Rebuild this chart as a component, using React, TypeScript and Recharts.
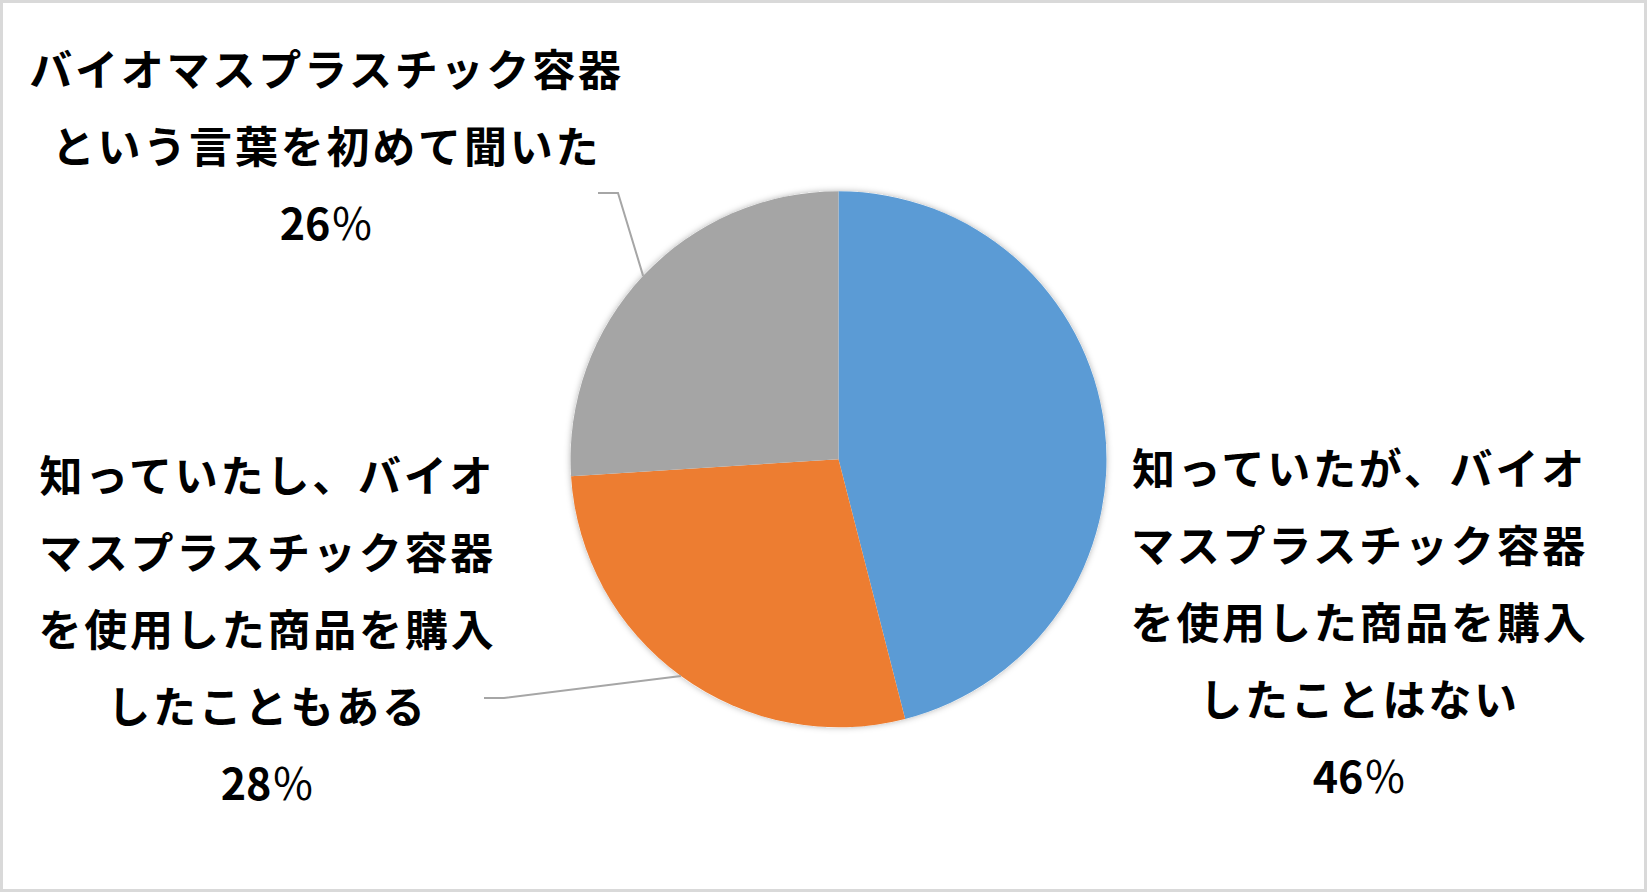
import React from 'react'
import { PieChart, Pie, Cell } from 'recharts'

// chart data
const categories = [
  '知っていたが、バイオマスプラスチック容器を使用した商品を購入したことはない',
  '知っていたし、バイオマスプラスチック容器を使用した商品を購入したこともある',
  'バイオマスプラスチック容器という言葉を初めて聞いた',
]
const categoryLines = [
  ['知っていたが、バイオ', 'マスプラスチック容器', 'を使用した商品を購入', 'したことはない'],
  ['知っていたし、バイオ', 'マスプラスチック容器', 'を使用した商品を購入', 'したこともある'],
  ['バイオマスプラスチック容器', 'という言葉を初めて聞いた'],
]
const values = [46, 28, 26]
const colors = ['#5B9BD5', '#ED7D31', '#A5A5A5']

const chartData = categories.map((name, i) => ({ name, value: values[i] }))

const WIDTH = 1647
const HEIGHT = 892
const CX = 838.5
const CY = 459.3
const RADIUS = 268
const LINE_HEIGHT = 77
const FONT = "'Noto Sans CJK JP', 'Noto Sans', sans-serif"

// label placement relative to the pie centre (text centre x, first baseline y)
const labelLayout = [
  { dx: 521, dy: 26, elbow: null },
  { dx: -571, dy: 33, elbow: { x: -334.5, y: 238.7, endX: -354.5 } },
  { dx: -512, dy: -373.3, elbow: { x: -220.5, y: -266.3, endX: -240.5 } },
]

const RAD = Math.PI / 180

function renderLabel(props: any) {
  const { cx, cy, midAngle, outerRadius, index, value } = props
  const layout = labelLayout[index]
  const lines = categoryLines[index]
  const tx = cx + layout.dx
  const ty = cy + layout.dy
  let leader = null
  if (layout.elbow) {
    const sx = cx + outerRadius * Math.cos(midAngle * RAD)
    const sy = cy - outerRadius * Math.sin(midAngle * RAD)
    const ex = cx + layout.elbow.x
    const ey = cy + layout.elbow.y
    const fx = cx + layout.elbow.endX
    leader = (
      <polyline
        points={`${sx},${sy} ${ex},${ey} ${fx},${ey}`}
        fill="none"
        stroke="#A6A6A6"
        strokeWidth={2}
      />
    )
  }
  return (
    <g key={`label-${index}`}>
      {leader}
      <text
        x={tx}
        y={ty}
        textAnchor="middle"
        fill="#000"
        fontFamily={FONT}
        fontSize={43}
        fontWeight={700}
        letterSpacing={2.8}
      >
        {lines.map((line, i) => (
          <tspan key={i} x={tx} y={ty + i * LINE_HEIGHT}>
            {line}
          </tspan>
        ))}
        <tspan x={tx} y={ty + lines.length * LINE_HEIGHT} letterSpacing={0}>
          {value}
          <tspan fontWeight={400}>％</tspan>
        </tspan>
      </text>
    </g>
  )
}

export default function App() {
  return (
    <div
      style={{
        position: 'absolute',
        left: 0,
        top: 0,
        width: WIDTH,
        height: HEIGHT,
        background: '#fff',
      }}
    >
      <PieChart width={WIDTH} height={HEIGHT} margin={{ top: 0, right: 0, bottom: 0, left: 0 }}>
        <defs>
          <filter id="pieShadow" x="-20%" y="-20%" width="140%" height="140%">
            <feDropShadow dx="0" dy="0" stdDeviation="3" floodColor="#000" floodOpacity="0.3" />
          </filter>
        </defs>
        <Pie
          data={[{ value: 1 }]}
          dataKey="value"
          cx={CX}
          cy={CY}
          outerRadius={RADIUS}
          startAngle={90}
          endAngle={-270}
          fill="#fff"
          stroke="none"
          filter="url(#pieShadow)"
          isAnimationActive={false}
        />
        <Pie
          data={chartData}
          dataKey="value"
          nameKey="name"
          cx={CX}
          cy={CY}
          outerRadius={RADIUS}
          startAngle={90}
          endAngle={-270}
          stroke="none"
          label={renderLabel}
          labelLine={false}
          isAnimationActive={false}
        >
          {chartData.map((d, i) => (
            <Cell key={d.name} fill={colors[i]} />
          ))}
        </Pie>
      </PieChart>
      <div
        style={{
          position: 'absolute',
          inset: 0,
          border: '3px solid #D9D9D9',
          boxSizing: 'border-box',
          pointerEvents: 'none',
        }}
      />
    </div>
  )
}
